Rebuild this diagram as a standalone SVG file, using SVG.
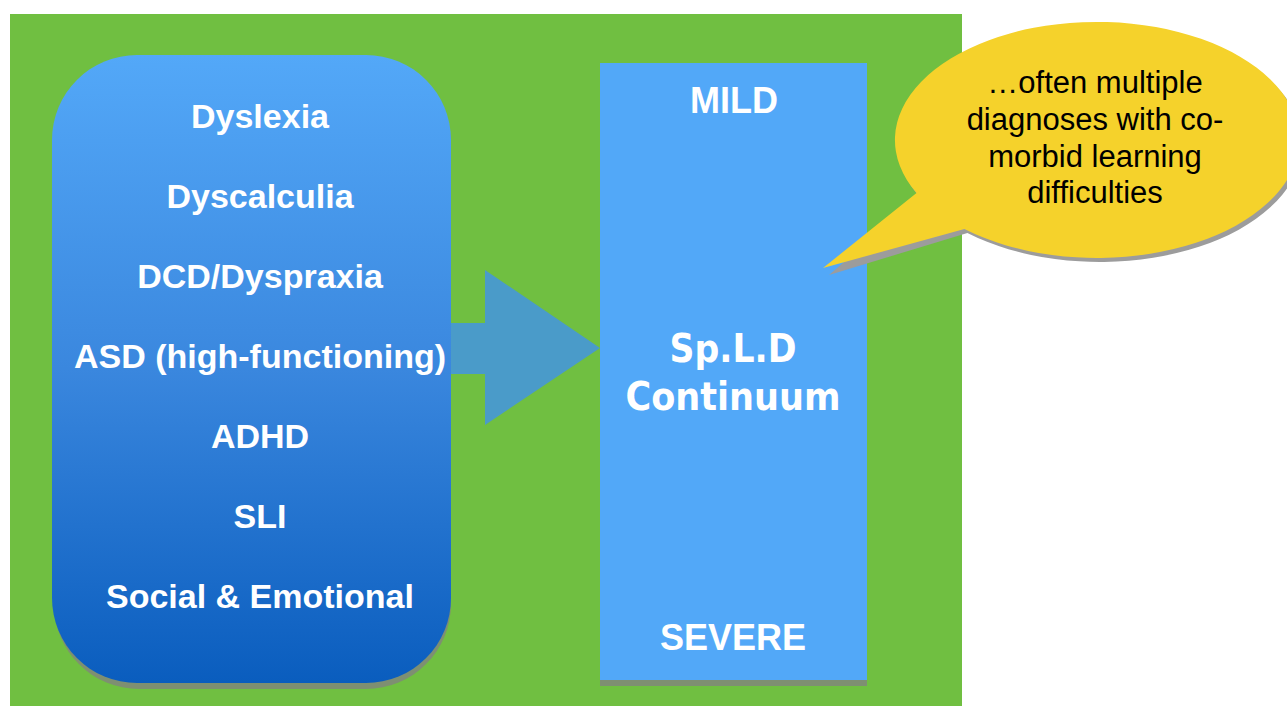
<svg xmlns="http://www.w3.org/2000/svg" width="1287" height="706" viewBox="0 0 1287 706">
  <defs>
    <linearGradient id="blueGrad" x1="0" y1="0" x2="0" y2="1">
      <stop offset="0" stop-color="#53A8F8"/>
      <stop offset="0.5" stop-color="#3A87DE"/>
      <stop offset="1" stop-color="#0A5DBE"/>
    </linearGradient>
    <style>
      .lbl { font-family: "Liberation Sans", Arial, sans-serif; font-weight: bold; fill: #FFFFFF; text-anchor: middle; }
      .left { font-size: 34px; }
      .big { font-family: "DejaVu Sans", Verdana, sans-serif; font-weight: bold; fill: #FFFFFF; text-anchor: middle; font-size: 39px; }
      .call { font-family: "Liberation Sans", Arial, sans-serif; font-size: 31px; fill: #000000; text-anchor: middle; }
      .shadow { fill: #7E8F72; }
    </style>
  </defs>

  <rect id="background" x="10" y="14" width="952" height="692" fill="#70BF41"/>

  <g id="conditions">
    <rect class="shadow" x="54" y="60" width="397" height="629" rx="85" ry="85"/>
    <rect x="52" y="55" width="399" height="628" rx="85" ry="85" fill="url(#blueGrad)"/>
    <text class="lbl left" x="260" y="128">Dyslexia</text>
    <text class="lbl left" x="260" y="208">Dyscalculia</text>
    <text class="lbl left" x="260" y="288">DCD/Dyspraxia</text>
    <text class="lbl left" x="260" y="368">ASD (high-functioning)</text>
    <text class="lbl left" x="260" y="448">ADHD</text>
    <text class="lbl left" x="260" y="528">SLI</text>
    <text class="lbl left" x="260" y="608">Social &amp; Emotional</text>
  </g>

  <g id="connectors">
    <polygon points="451,323 485,323 485,270 600,348 485,425 485,374 451,374" fill="#4A9BC9"/>
  </g>

  <g id="continuum">
    <rect class="shadow" x="600" y="68" width="267" height="618"/>
    <rect x="600" y="63" width="267" height="617" fill="#52A8F8"/>
    <text class="lbl" x="734" y="113" font-size="36">MILD</text>
    <text class="big" x="733" y="362" textLength="127" lengthAdjust="spacingAndGlyphs">Sp.L.D</text>
    <text class="big" x="733" y="410" textLength="215" lengthAdjust="spacingAndGlyphs">Continuum</text>
    <text class="lbl" x="733" y="650" font-size="36">SEVERE</text>
  </g>

  <g id="callout">
    <path d="M 916.5 193 A 202 118 0 1 1 964.4 229 L 826 271 Z" fill="#9C9C9C" transform="translate(3,4)"/>
    <path d="M 916.5 193 A 202 118 0 1 1 964.4 229 L 823 268 Z" fill="#F5D22B"/>
    <text class="call" x="1095" y="93">…often multiple</text>
    <text class="call" x="1095" y="130">diagnoses with co-</text>
    <text class="call" x="1095" y="167">morbid learning</text>
    <text class="call" x="1095" y="203">difficulties</text>
  </g>
</svg>
